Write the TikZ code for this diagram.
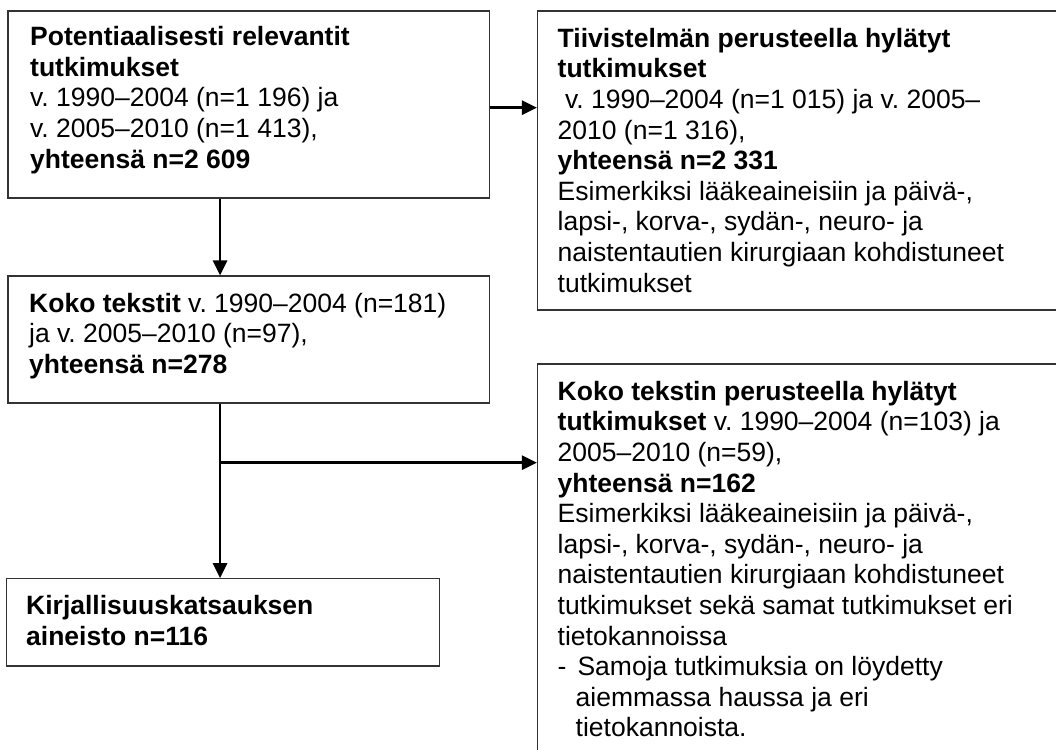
\documentclass[tikz,border=0pt]{standalone}
\usepackage{fontspec}
\setmainfont{Liberation Sans}
\usetikzlibrary{arrows.meta,fit}
\begin{document}
\frenchspacing
\begin{tikzpicture}[x=1pt,y=-1pt,
  box/.style={draw=black!80, line width=1.1pt, inner sep=0pt, rectangle},
  txt/.style={anchor=north west, inner sep=0pt, align=left, font=\fontsize{26.5}{30.6}\selectfont\frenchspacing},
  arr/.style={line width=2.6pt, -{Triangle[length=15pt,width=14pt]}}]
\useasboundingbox (0,0) rectangle (1056,749);
\clip (0,0) rectangle (1056,749);
\fill[white] (0,0) rectangle (1056,749);
% boxes
\node[box, fit={(8,11) (489.5,198)}] (b1) {};
\node[box, fit={(537.5,11) (1080,310)}] (b2) {};
\node[box, fit={(8,276) (489.5,403)}] (b3) {};
\node[box, fit={(537.5,364) (1080,790)}] (b4) {};
\node[box, fit={(6.2,578.7) (439.4,666)}] (b5) {};
% texts
\node[txt] (t1) at (30,24) {\strut\textbf{Potentiaalisesti relevantit}\\
\textbf{tutkimukset}\\
v. 1990–2004 (n=1~196) ja\\
v. 2005–2010 (n=1~413),\\
\textbf{yhteensä n=2~609}};
\node[txt] (t2) at (557.5,25.6) {\strut\textbf{Tiivistelmän perusteella hylätyt}\\
\textbf{tutkimukset}\\
\hspace*{0.278em}v. 1990–2004 (n=1~015) ja v. 2005–\\
2010 (n=1~316),\\
\textbf{yhteensä n=2~331}\\
Esimerkiksi lääkeaineisiin ja päivä-,\\
lapsi-, korva-, sydän-, neuro- ja\\
naistentautien kirurgiaan kohdistuneet\\
tutkimukset};
\node[txt] (t3) at (29,290.6) {\strut\textbf{Koko tekstit} v. 1990–2004 (n=181)\\
ja v. 2005–2010 (n=97),\\
\textbf{yhteensä n=278}};
\node[txt] (t4) at (557.5,378.6) {\strut\textbf{Koko tekstin perusteella hylätyt}\\
\textbf{tutkimukset} v. 1990–2004 (n=103) ja\\
2005–2010 (n=59),\\
\textbf{yhteensä n=162}\\
Esimerkiksi lääkeaineisiin ja päivä-,\\
lapsi-, korva-, sydän-, neuro- ja\\
naistentautien kirurgiaan kohdistuneet\\
tutkimukset sekä samat tutkimukset eri\\
tietokannoissa\\
-\hspace*{11pt}Samoja tutkimuksia on löydetty\\
\hspace*{18pt}aiemmassa haussa ja eri\\
\hspace*{18pt}tietokannoista.};
\node[txt] (t5) at (26,593.3) {\strut\textbf{Kirjallisuuskatsauksen}\\
\textbf{aineisto n=116}};
% connectors
\draw[arr] ([yshift=-3.2pt]b1.east) coordinate (a1) -- (a1 -| b2.west);
\draw[arr] ([xshift=-28.7pt]b1.south) -- ([xshift=-28.7pt]b3.north);
\draw[arr] ([xshift=-28.7pt]b3.south) coordinate (c3) -- (c3 |- b5.north);
\coordinate (br) at (300,462.7);
\draw[arr] (c3 |- br) -- (br -| b4.west);
\end{tikzpicture}
\end{document}
